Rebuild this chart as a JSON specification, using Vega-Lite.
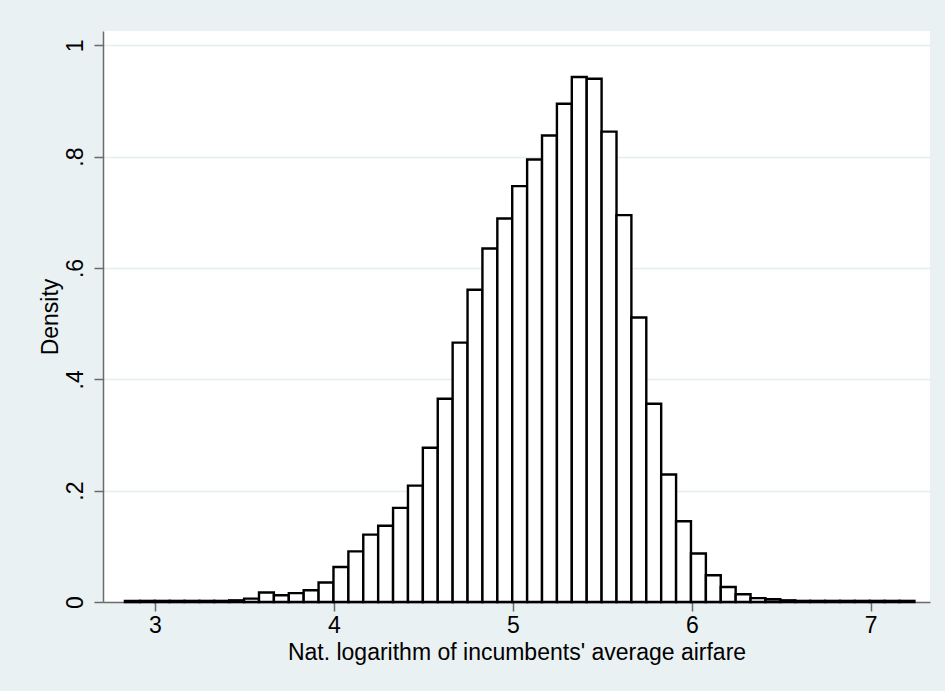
{
  "$schema": "https://vega.github.io/schema/vega-lite/v6.json",
  "width": 827,
  "height": 571,
  "autosize": {"type": "none"},
  "padding": {"left": 103, "top": 31, "right": 15, "bottom": 89},
  "background": "#eaf1f3",
  "config": {
    "view": {"fill": "white", "stroke": null},
    "font": "Liberation Sans",
    "axis": {
      "domainColor": "#6b6b6b",
      "tickColor": "#6b6b6b",
      "domainWidth": 1.5,
      "tickWidth": 1.5,
      "tickSize": 9,
      "labelFontSize": 23,
      "titleFontSize": 23,
      "labelColor": "#000000",
      "titleColor": "#000000",
      "titleFontWeight": "normal",
      "labelFont": "Liberation Sans",
      "titleFont": "Liberation Sans"
    }
  },
  "data": {
    "values": [
      {"lo": 2.832, "hi": 2.9153, "density": 0.002},
      {"lo": 2.9153, "hi": 2.9985, "density": 0.002},
      {"lo": 2.9985, "hi": 3.0818, "density": 0.002},
      {"lo": 3.0818, "hi": 3.165, "density": 0.002},
      {"lo": 3.165, "hi": 3.2483, "density": 0.002},
      {"lo": 3.2483, "hi": 3.3315, "density": 0.002},
      {"lo": 3.3315, "hi": 3.4148, "density": 0.002},
      {"lo": 3.4148, "hi": 3.498, "density": 0.003},
      {"lo": 3.498, "hi": 3.5813, "density": 0.006},
      {"lo": 3.5813, "hi": 3.6645, "density": 0.017},
      {"lo": 3.6645, "hi": 3.7478, "density": 0.012},
      {"lo": 3.7478, "hi": 3.831, "density": 0.016},
      {"lo": 3.831, "hi": 3.9143, "density": 0.021},
      {"lo": 3.9143, "hi": 3.9975, "density": 0.035},
      {"lo": 3.9975, "hi": 4.0808, "density": 0.063},
      {"lo": 4.0808, "hi": 4.164, "density": 0.091},
      {"lo": 4.164, "hi": 4.2473, "density": 0.121},
      {"lo": 4.2473, "hi": 4.3305, "density": 0.137},
      {"lo": 4.3305, "hi": 4.4138, "density": 0.169},
      {"lo": 4.4138, "hi": 4.497, "density": 0.209},
      {"lo": 4.497, "hi": 4.5803, "density": 0.277},
      {"lo": 4.5803, "hi": 4.6635, "density": 0.365},
      {"lo": 4.6635, "hi": 4.7468, "density": 0.466},
      {"lo": 4.7468, "hi": 4.83, "density": 0.561},
      {"lo": 4.83, "hi": 4.9133, "density": 0.635},
      {"lo": 4.9133, "hi": 4.9965, "density": 0.689},
      {"lo": 4.9965, "hi": 5.0798, "density": 0.747},
      {"lo": 5.0798, "hi": 5.163, "density": 0.795},
      {"lo": 5.163, "hi": 5.2463, "density": 0.838},
      {"lo": 5.2463, "hi": 5.3295, "density": 0.895},
      {"lo": 5.3295, "hi": 5.4128, "density": 0.943},
      {"lo": 5.4128, "hi": 5.496, "density": 0.94},
      {"lo": 5.496, "hi": 5.5793, "density": 0.845},
      {"lo": 5.5793, "hi": 5.6625, "density": 0.695},
      {"lo": 5.6625, "hi": 5.7458, "density": 0.511},
      {"lo": 5.7458, "hi": 5.829, "density": 0.356},
      {"lo": 5.829, "hi": 5.9123, "density": 0.229},
      {"lo": 5.9123, "hi": 5.9955, "density": 0.145},
      {"lo": 5.9955, "hi": 6.0788, "density": 0.087},
      {"lo": 6.0788, "hi": 6.162, "density": 0.048},
      {"lo": 6.162, "hi": 6.2453, "density": 0.027},
      {"lo": 6.2453, "hi": 6.3285, "density": 0.014},
      {"lo": 6.3285, "hi": 6.4118, "density": 0.007},
      {"lo": 6.4118, "hi": 6.495, "density": 0.005},
      {"lo": 6.495, "hi": 6.5783, "density": 0.003},
      {"lo": 6.5783, "hi": 6.6615, "density": 0.002},
      {"lo": 6.6615, "hi": 6.7448, "density": 0.002},
      {"lo": 6.7448, "hi": 6.828, "density": 0.002},
      {"lo": 6.828, "hi": 6.9113, "density": 0.002},
      {"lo": 6.9113, "hi": 6.9945, "density": 0.002},
      {"lo": 6.9945, "hi": 7.0778, "density": 0.002},
      {"lo": 7.0778, "hi": 7.161, "density": 0.002},
      {"lo": 7.161, "hi": 7.2443, "density": 0.002}
    ]
  },
  "mark": {"type": "bar", "fill": "white", "stroke": "black", "strokeWidth": 2.4, "opacity": 1},
  "encoding": {
    "x": {
      "field": "lo",
      "type": "quantitative",
      "scale": {"domain": [2.7094, 7.3314], "nice": false, "zero": false, "padding": 0},
      "axis": {
        "values": [3, 4, 5, 6, 7],
        "title": "Nat. logarithm of incumbents' average airfare",
        "grid": false,
        "labelPadding": 3,
        "titlePadding": 4
      }
    },
    "x2": {"field": "hi"},
    "y": {
      "field": "density",
      "type": "quantitative",
      "scale": {"domain": [0, 1.0257], "nice": false, "zero": true, "padding": 0},
      "axis": {
        "values": [0, 0.2, 0.4, 0.6, 0.8, 1],
        "title": "Density",
        "labelExpr": "datum.value == 0 ? '0' : datum.value == 1 ? '1' : '.' + round(datum.value * 10)",
        "labelAngle": -90,
        "grid": true,
        "gridColor": "#e4eef1",
        "gridWidth": 1.5,
        "labelPadding": 7,
        "titlePadding": 2
      }
    },
    "y2": {"datum": 0}
  }
}
